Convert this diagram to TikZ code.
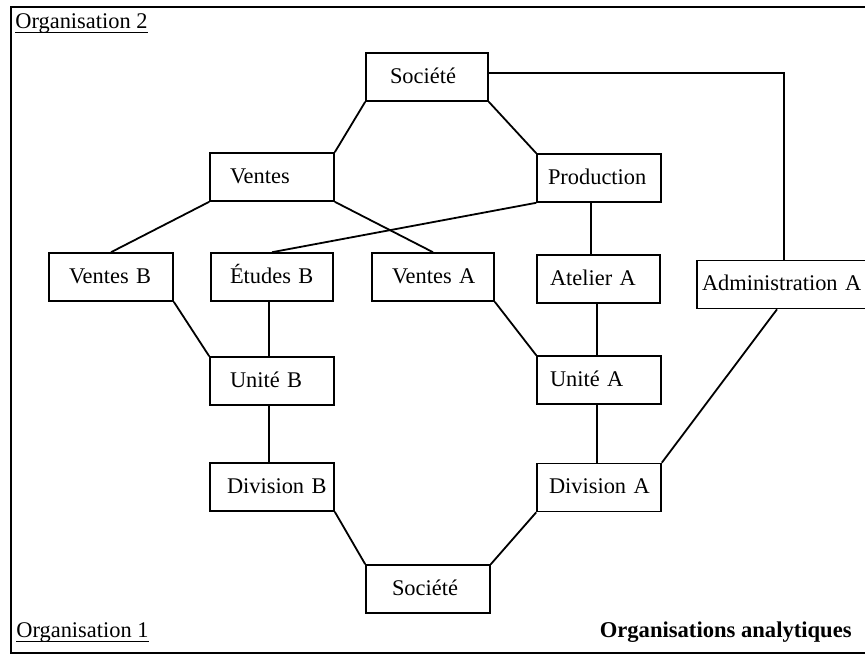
\documentclass[tikz,border=0pt]{standalone}
\usepackage{fontspec}
\setmainfont{Liberation Serif}
\begin{document}
\begin{tikzpicture}[x=0.5pt,y=-0.5pt,
  every node/.style={font=\fontsize{11.2}{13}\selectfont},
  bx/.style 2 args={draw, line width=0.8pt, minimum height=24pt, inner xsep=0pt, inner ysep=0pt,
     text width=#1, align=left, text height=8pt, text depth=2pt,
     execute at begin node={\noindent\hspace*{#2}}},
  link/.style={line width=0.9pt},
  lbl/.style={inner sep=0pt, anchor=base west}]
\useasboundingbox (0,0) rectangle (865,655);
\clip (0,0) rectangle (865,655);
\fill[white] (0,0) rectangle (865,655);
\draw[line width=0.9pt] (11,7) rectangle (900,653);
% nodes
\node[bx={61pt}{12pt}] (soc1) at (427,77) {Société};
\node[bx={62pt}{10pt}] (ventes) at (272,177) {Ventes};
\node[bx={62pt}{5.5pt}] (prod) at (599,178) {Production};
\node[bx={62pt}{10pt}] (ventesB) at (111,277) {Ventes~B};
\node[bx={61pt}{9.5pt}] (etudesB) at (272,277) {Études~B};
\node[bx={61pt}{10pt}] (ventesA) at (433,277) {Ventes~A};
\node[bx={61.5pt}{6.5pt}] (atelierA) at (598.5,279) {Atelier~A};
\node[bx={87pt}{2.5pt}] (admin) at (784,284.5) {Administration~A};
\node[bx={62pt}{10pt}] (uniteB) at (272,381) {Unité~B};
\node[bx={62pt}{6.5pt}] (uniteA) at (599,380) {Unité~A};
\node[bx={62pt}{8.5pt}] (divB) at (272,487) {Division~B};
\node[bx={62pt}{6pt}] (divA) at (599,487.5) {Division~A};
\node[bx={62pt}{13pt}] (soc2) at (428,589) {Société};
% connectors
\draw[link] (soc1.south west) -- (ventes.north east);
\draw[link] (soc1.south east) -- (prod.north west);
\draw[link] ([yshift=2pt]soc1.east) -| (admin.north);
\draw[link] (ventes.south west) -- (ventesB.north);
\draw[link] (ventes.south east) -- (ventesA.north);
\draw[link] (prod.south west) -- (etudesB.north);
\draw[link] ([xshift=-4pt]prod.south) -- ([xshift=-4pt]prod.south |- atelierA.north);
\draw[link] ([xshift=-0.6pt]atelierA.south) -- ([xshift=-0.6pt]atelierA.south |- uniteA.north);
\draw[link] (ventesB.south east) -- (uniteB.north west);
\draw[link] ([xshift=-1.5pt]etudesB.south) -- ([xshift=-1.5pt]etudesB.south |- uniteB.north);
\draw[link] (ventesA.south east) -- (uniteA.north west);
\draw[link] ([xshift=-1.5pt]uniteB.south) -- ([xshift=-1.5pt]uniteB.south |- divB.north);
\draw[link] ([xshift=-1pt]uniteA.south) -- ([xshift=-1pt]uniteA.south |- divA.north);
\draw[link] (divB.south east) -- (soc2.north west);
\draw[link] (divA.south west) -- (soc2.north east);
\draw[link] (divA.north east) -- ([xshift=-3.5pt]admin.south);
% labels
\node[lbl] (org2) at (15,28) {Organisation 2};
\draw[line width=0.5pt] ([yshift=-2pt]org2.base west) -- ([yshift=-2pt]org2.base east);
\node[lbl] (org1) at (16,637) {Organisation 1};
\draw[line width=0.5pt] ([yshift=-2pt]org1.base west) -- ([yshift=-2pt]org1.base east);
\node[inner sep=0pt, anchor=base east, font=\fontsize{11.3}{13}\selectfont\bfseries] (title) at (852,637) {Organisations analytiques};
\end{tikzpicture}
\end{document}
